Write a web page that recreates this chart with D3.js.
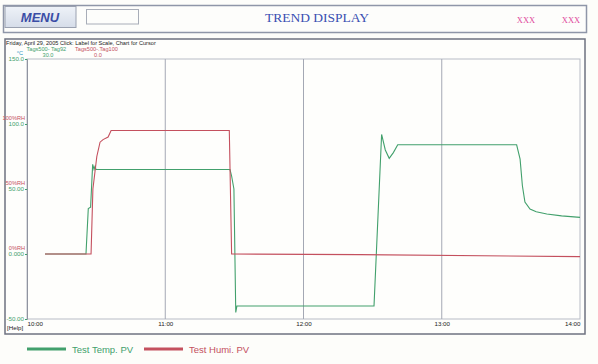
<!DOCTYPE html>
<html>
<head>
<meta charset="utf-8">
<script src="https://cdn.jsdelivr.net/npm/d3@7"></script>
<style>
    body { margin: 0; background: #fdfdfa; }
    svg { display: block; }
</style>
</head>
<body>
<div id="chart"></div>
<script>
// time axis (minutes after 10:00)
const timeTicks = [0, 60, 120, 180, 240];
const timeLabels = ['10:00', '11:00', '12:00', '13:00', '14:00'];

// left axis
const tempTicks = [150, 100, 50, 0, -50];
const tempLabels = ['150.0', '100.0', '50.00', '0.000', '-50.00'];
const humiTicks = [100, 50, 0];
const humiLabels = ['100%RH', '50%RH', '0%RH'];

// Test Temp. PV
const tempT = [7.8, 25.6, 26.6, 27.6, 28.5, 29.1, 29.6, 29.9, 88.1, 88.8, 89.8, 90.6, 91.1, 150.6, 153.9, 155.5, 157.2, 159, 160.9, 212.5, 214, 215, 216.1, 218.3, 221, 225.6, 232, 240];
const tempV = [0, 0, 35, 36, 69, 65, 68, 65, 65, 60, 50, -45, -40, -40, 92, 80, 73.6, 78, 84, 84, 73, 52.5, 40, 34.6, 32.5, 30.8, 29.3, 28.2];

// Test Humi. PV
const humiT = [7.8, 27.8, 28.6, 30.3, 31.7, 33, 35.2, 36.5, 87.8, 88.8, 144.5, 240];
const humiV = [0, 0, 50, 75, 86, 88, 90, 95, 95, 0, -0.5, -2];

const W = 598, H = 364;
const green = '#42a06c', red = '#c4505e';

const svg = d3.select('#chart').append('svg')
    .attr('width', W)
    .attr('height', H)
    .style('font-family', 'Arial, "Liberation Sans", sans-serif');

// header
svg.append('rect')
    .attr('x', 3.5).attr('y', 5.5).attr('width', 583).attr('height', 27)
    .attr('fill', '#fdfdfb').attr('stroke', '#8f96a8').attr('stroke-width', 1.5);

const grad = svg.append('defs').append('linearGradient')
    .attr('id', 'menuGrad').attr('x1', 0).attr('y1', 0).attr('x2', 0).attr('y2', 1);
grad.append('stop').attr('offset', '0%').attr('stop-color', '#eef2f8');
grad.append('stop').attr('offset', '100%').attr('stop-color', '#d6dde9');

svg.append('rect')
    .attr('x', 5).attr('y', 6.5).attr('width', 71).attr('height', 21)
    .attr('fill', 'url(#menuGrad)').attr('stroke', '#9aa1b0').attr('stroke-width', 1);
svg.append('text')
    .attr('x', 40).attr('y', 21.5)
    .attr('text-anchor', 'middle')
    .style('font-size', '13px').style('font-weight', 'bold').style('font-style', 'italic')
    .attr('fill', '#3a4da6')
    .text('MENU');

svg.append('rect')
    .attr('x', 86.5).attr('y', 9.5).attr('width', 52).attr('height', 14.5)
    .attr('fill', '#fdfdfb').attr('stroke', '#a8adb8').attr('stroke-width', 1);

svg.append('text')
    .attr('x', 317).attr('y', 22)
    .attr('text-anchor', 'middle')
    .style('font-family', '"Liberation Serif", "DejaVu Serif", serif')
    .style('font-size', '13.5px')
    .attr('fill', '#3a50b2')
    .text('TREND DISPLAY');

[526, 571].forEach(x => {
    svg.append('text')
        .attr('x', x).attr('y', 23)
        .attr('text-anchor', 'middle')
        .style('font-family', '"Liberation Serif", "DejaVu Serif", serif')
        .style('font-size', '8.5px')
        .attr('fill', '#e0489c')
        .text('XXX');
});

// chart frame
svg.append('rect')
    .attr('x', 5).attr('y', 39).attr('width', 580).attr('height', 295)
    .attr('fill', '#fefefc').attr('stroke', '#6e7280').attr('stroke-width', 1.5);

svg.append('text')
    .attr('x', 6).attr('y', 44.5)
    .style('font-size', '5.6px').attr('fill', '#222')
    .text('Friday, April 29, 2005    Click: Label for Scale, Chart for Cursor');

svg.append('text').attr('x', 26.5).attr('y', 50.5)
    .style('font-size', '5.6px').attr('fill', green).text('Tags500- Tag92');
svg.append('text').attr('x', 75).attr('y', 50.5)
    .style('font-size', '5.6px').attr('fill', red).text('Tags500-.Tag100');
svg.append('text').attr('x', 48).attr('y', 56.5).attr('text-anchor', 'middle')
    .style('font-size', '5.6px').attr('fill', green).text('30.0');
svg.append('text').attr('x', 98).attr('y', 56.5).attr('text-anchor', 'middle')
    .style('font-size', '5.6px').attr('fill', red).text('0.0');

// scales
const x = d3.scaleLinear().domain([0, 240]).range([27, 580]);
const y = d3.scaleLinear().domain([-50, 150]).range([319, 59]);

// plot box
svg.append('rect')
    .attr('x', x(0)).attr('y', y(150))
    .attr('width', x(240) - x(0)).attr('height', y(-50) - y(150))
    .attr('fill', 'none').attr('stroke', '#b8bcc6').attr('stroke-width', 1);

// vertical grid
svg.append('g')
    .selectAll('line')
    .data(timeTicks.slice(1, -1))
    .join('line')
    .attr('x1', d => x(d)).attr('x2', d => x(d))
    .attr('y1', y(150)).attr('y2', y(-50))
    .attr('stroke', '#a4a8b4').attr('stroke-width', 1);

// x axis
const xAxis = svg.append('g')
    .attr('transform', `translate(0,${y(-50)})`)
    .call(d3.axisBottom(x).tickValues(timeTicks).tickFormat((d, i) => timeLabels[i]).tickSize(0).tickPadding(3));
xAxis.select('.domain').remove();
xAxis.selectAll('text')
    .style('font-size', '6.2px')
    .style('font-family', 'Arial, "Liberation Sans", sans-serif')
    .attr('fill', '#222')
    .attr('text-anchor', (d, i) => i === 0 ? 'start' : (i === timeTicks.length - 1 ? 'end' : 'middle'));

svg.append('text').attr('x', 7).attr('y', 330)
    .style('font-size', '6.2px').attr('fill', '#222').text('[Help]');

// y axis (temp)
const yAxis = svg.append('g')
    .attr('transform', `translate(${x(0)},0)`)
    .call(d3.axisLeft(y).tickValues(tempTicks).tickFormat((d, i) => tempLabels[i]).tickSize(2).tickPadding(1));
yAxis.select('.domain').attr('stroke', '#9094a0');
yAxis.selectAll('.tick line').attr('stroke', green);
yAxis.selectAll('text')
    .style('font-size', '6.2px')
    .style('font-family', 'Arial, "Liberation Sans", sans-serif')
    .attr('fill', green);

svg.append('text').attr('x', 20).attr('y', 54.5)
    .attr('text-anchor', 'middle')
    .style('font-size', '5.6px').attr('fill', '#2a94c4').text('°C');

// humidity labels
svg.append('g')
    .selectAll('text')
    .data(humiTicks)
    .join('text')
    .attr('x', 25)
    .attr('y', d => y(d) - 4.5)
    .attr('text-anchor', 'end')
    .style('font-size', '5.6px')
    .attr('fill', red)
    .text((d, i) => humiLabels[i]);

// lines
const line = d3.line()
    .x(d => x(d[0]))
    .y(d => y(d[1]));

svg.append('path')
    .datum(tempT.map((t, i) => [t, tempV[i]]))
    .attr('fill', 'none').attr('stroke', green).attr('stroke-width', 1.1)
    .attr('d', line);

svg.append('path')
    .datum(humiT.map((t, i) => [t, humiV[i]]))
    .attr('fill', 'none').attr('stroke', red).attr('stroke-width', 1.1)
    .attr('d', line);

// legend
const legend = [
    { name: 'Test Temp. PV', color: green, x: 27 },
    { name: 'Test Humi. PV', color: red, x: 144 }
];
const lg = svg.append('g').selectAll('g').data(legend).join('g')
    .attr('transform', d => `translate(${d.x},349)`);
lg.append('line')
    .attr('x1', 0).attr('x2', 39)
    .attr('stroke', d => d.color).attr('stroke-width', 3);
lg.append('text')
    .attr('x', 45).attr('y', 3.5)
    .style('font-size', '9.5px')
    .attr('fill', d => d.color)
    .text(d => d.name);
</script>
</body>
</html>
